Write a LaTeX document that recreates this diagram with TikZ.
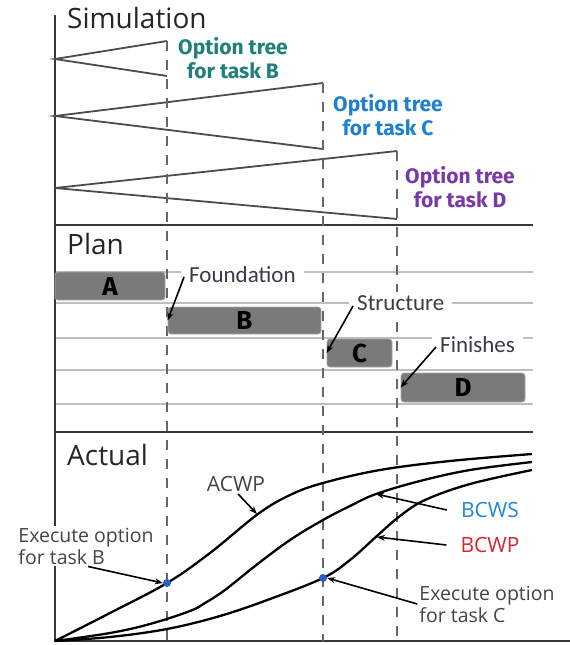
\documentclass[tikz,border=0pt]{standalone}
\usepackage{fontspec}
\setmainfont{Open Sans}
\newfontfamily\optfont{Fira Sans}
\newfontfamily\calfont{Carlito}
\usetikzlibrary{arrows.meta}
\definecolor{tealc}{HTML}{1F7F7B}
\definecolor{bluec}{HTML}{2080D0}
\definecolor{purplec}{HTML}{7A3AA6}
\definecolor{bcwsc}{HTML}{1F87D5}
\definecolor{bcwpc}{HTML}{D8262C}
\definecolor{dotc}{HTML}{2A5FC8}
\definecolor{hdrc}{HTML}{262626}
\definecolor{lblc}{HTML}{3A3A48}
\definecolor{exc}{HTML}{4A4242}
\begin{document}
\begin{tikzpicture}[x=1pt,y=-1pt,
  sepline/.style={line width=1.8pt, draw=black!78},
  gridline/.style={line width=1.8pt, draw=black!25},
  vdashed/.style={line width=2.8pt, draw=black!60, dash pattern=on 10pt off 9pt},
  treeline/.style={line width=1.8pt, draw=black!70},
  barbox/.style={draw=black!35, fill=black!52, rounded corners=3pt, line width=0.8pt, inner sep=0pt,
    font=\optfont\bfseries\fontsize{26}{26}\selectfont, text=black},
  hdr/.style={anchor=base west, inner sep=0pt, text=hdrc, font=\fontsize{28}{30}\selectfont},
  opt/.style={align=center, inner sep=0pt, font=\optfont\bfseries\fontsize{21}{24}\selectfont},
  plbl/.style={fill=white, inner xsep=8pt, inner ysep=3pt, text=lblc, font=\calfont\fontsize{23}{26}\selectfont},
  exlbl/.style={fill=white, align=left, inner sep=2pt, text=exc, font=\fontsize{19.5}{22}\selectfont},
  clbl/.style={inner sep=2pt, font=\fontsize{21}{24}\selectfont},
  arr/.style={-{Stealth[length=8pt,width=6pt]}, line width=1.6pt, draw=black},
  curve/.style={line width=2.3pt, draw=black},
  dotn/.style={circle, fill=dotc, inner sep=0pt, minimum size=8pt}]
\useasboundingbox (0,0) rectangle (570,645);

% axes and separators
\coordinate (axTop) at (55,15);
\coordinate (orig) at (55,641);
\coordinate (axEnd) at (570,641);
\coordinate (s1L) at (55,225);  \coordinate (s1R) at (533,225);
\coordinate (s2L) at (55,432);  \coordinate (s2R) at (533,432);

% plan grid lines
\foreach \yy/\nm in {272/g1,303/g2,338/g3,370/g4,404/g5}{
  \coordinate (\nm L) at (55,\yy); \coordinate (\nm R) at (533,\yy);
  \draw[gridline] (\nm L) -- (\nm R);
}

\draw[sepline] (axTop) -- (orig) -- (axEnd);
\draw[sepline] (s1L) -- (s1R);
\draw[sepline] (s2L) -- (s2R);

% option trees
\coordinate (tB) at (55,59);  \coordinate (tB1) at (167,41); \coordinate (tB2) at (167,76);
\coordinate (tC) at (55,116); \coordinate (tC1) at (323,83); \coordinate (tC2) at (323,149);
\coordinate (tD) at (55,188); \coordinate (tD1) at (397,151); \coordinate (tD2) at (397,219);
\draw[treeline] (tB1) -- (tB) -- (tB2);
\draw[treeline] (tC1) -- (tC) -- (tC2);
\draw[treeline] (tD1) -- (tD) -- (tD2);

% dashed verticals
\coordinate (vB) at (167,641); \coordinate (vC) at (323,641); \coordinate (vD) at (397,641);
\draw[vdashed] (tB1) -- (vB);
\draw[vdashed] (tC1) -- (vC);
\draw[vdashed] (tD1) -- (vD);

% headers
\node[hdr] (sim) at (67,28) {Simulation};
\node[hdr] (plan) at (67,254) {Plan};
\node[hdr] (act) at (67,465) {Actual};

% option tree labels
\node[opt, text=tealc] (oB) at (233,58) {Option tree\\for task B};
\node[opt, text=bluec] (oC) at (388,115) {Option tree\\for task C};
\node[opt, text=purplec] (oD) at (460,187) {Option tree\\for task D};

% bars
\node[barbox, minimum width=110pt, minimum height=28pt] (A) at (110,286) {A};
\node[barbox, minimum width=153pt, minimum height=27pt] (B) at (244.5,320.5) {B};
\node[barbox, minimum width=65pt, minimum height=28pt] (C) at (359.5,353) {C};
\node[barbox, minimum width=124pt, minimum height=29pt] (D) at (463,387.5) {D};

% plan labels
\node[plbl, anchor=west] (fnd) at (181,275) {Foundation};
\node[plbl, anchor=west] (str) at (349,303) {Structure};
\node[plbl, anchor=west] (fin) at (432,345) {Finishes};
\draw[arr] ([xshift=3pt,yshift=-2pt]fnd.west) -- (B.west);
\draw[arr] ([xshift=4pt,yshift=-3pt]str.west) -- (C.west);
\draw[arr] ([xshift=4pt,yshift=-2pt]fin.west) -- (D.west);

% curves
\draw[curve] plot[smooth, tension=0.6] coordinates {(55,641) (110,613) (167,583) (210,553) (258,514) (290,495) (323,483) (380,470) (450,461) (532,454)};
\draw[curve] plot[smooth, tension=0.6] coordinates {(55,641) (110,633) (150,624) (190,611) (205,603) (225,590) (255,566) (290,540) (323,520) (350,506) (376,494) (420,481) (470,470) (532,462)};
\draw[curve] plot[smooth, tension=0.6] coordinates {(55,641) (110,637) (167,629) (220,616) (270,599) (323,578) (350,560) (378,535) (400,516) (425,500) (470,484) (532,470)};

\coordinate (acwpP) at (257,514);
\coordinate (bcwsP) at (376,494);
\coordinate (bcwpP) at (377,537);

\node[dotn] (dB) at (167,583) {};
\node[dotn] (dC) at (323,578) {};

% curve labels
\node[clbl, text=exc] (acwp) at (236,484) {ACWP};
\node[clbl, text=bcwsc] (bcws) at (490,510) {BCWS};
\node[clbl, text=bcwpc] (bcwp) at (490,545) {BCWP};
\draw[arr] ([xshift=2pt]acwp.south) -- (acwpP);
\draw[arr] ([xshift=-12pt]bcws.west) -- (bcwsP);
\draw[arr] ([xshift=-12pt]bcwp.west) -- (bcwpP);

\node[exlbl] (exB) at (86,546) {Execute option\\for task B};
\node[exlbl] (exC) at (487,604) {Execute option\\for task C};
\draw[arr] ([xshift=2pt]exB.south) -- (dB.west);
\draw[arr] (exC.west) -- (dC.east);
\end{tikzpicture}
\end{document}
